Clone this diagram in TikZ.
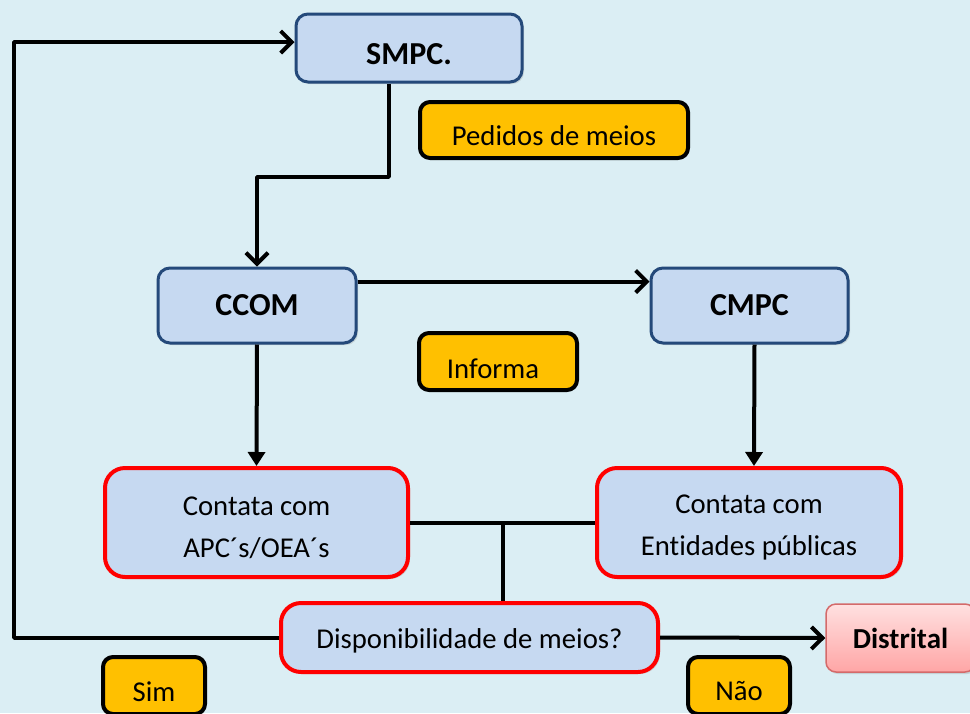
\documentclass[tikz,border=0pt]{standalone}
\usepackage{fontspec}
\setmainfont{Carlito}[Ligatures=NoCommon,Contextuals=NoAlternate]
\usetikzlibrary{arrows.meta,shadows}
\definecolor{bgblue}{HTML}{DBEEF4}
\definecolor{boxblue}{HTML}{C6D9F1}
\definecolor{edgeblue}{HTML}{24497A}
\definecolor{labelorange}{HTML}{FFC000}
\definecolor{distedge}{HTML}{D46A6A}
\newcommand{\shiftdown}[2]{\raisebox{-#1}[\height][\depth]{#2}}
\begin{document}
\begin{tikzpicture}[x=1pt,y=-1pt,line join=bevel,
  >={Straight Barb[length=11pt,width=22pt]},
  tri/.style={-{Triangle[length=14pt,width=17pt]}},
  link/.style={black,line width=4pt},
  shade box/.style={drop shadow={opacity=0.25,shadow xshift=2pt,shadow yshift=-2pt}},
  actor/.style={draw=edgeblue,line width=3pt,fill=boxblue,rounded corners=12pt,inner sep=0pt,shade box,font=\fontsize{32}{38}\selectfont\bfseries},
  task/.style={draw=red,line width=4pt,fill=boxblue,rounded corners=20pt,inner sep=0pt,align=center,shade box,font=\fontsize{28.7}{42}\selectfont},
  tag/.style={draw=black,line width=4pt,fill=labelorange,rounded corners=10pt,inner sep=0pt,font=\fontsize{28.7}{35}\selectfont},
]
\useasboundingbox [fill=bgblue] (0,0) rectangle (970,713);
%%
\node (node_smpc) at (409,48) [actor,minimum width=226pt,minimum height=68pt] {\shiftdown{6pt}{SMPC.}};
  \node (node_pedidos) at (554,130) [tag,minimum width=268pt,minimum height=56pt] {\shiftdown{6pt}{Pedidos de meios}};
  \node (node_ccom) at (257,305.5) [actor,minimum width=198pt,minimum height=75pt] {CCOM};
  \node (node_cmpc) at (749.5,305.5) [actor,minimum width=197pt,minimum height=75pt] {CMPC};
  \node (node_informa) at (498,361.5) [tag,minimum width=158pt,minimum height=57pt] {\shiftdown{7pt}{Informa}\hspace*{10pt}};
  \node (node_apc) at (256.5,522.5) [task,minimum width=303pt,minimum height=109pt] {\shiftdown{5pt}{Contata com}\\\shiftdown{5pt}{APC´s/OEA´s}};
  \node (node_ent) at (749,522.5) [task,minimum width=304pt,minimum height=109pt] {\shiftdown{5pt}{Contata com}\\\shiftdown{5pt}{Ent\kern0pt idades públicas}};
  \node (node_disp) at (469.5,637.5) [task,minimum width=377pt,minimum height=69pt] {\shiftdown{3pt}{Disponibilidade de meios?}};
  \node (node_dist) at (900.5,638) [draw=distedge,line width=1.5pt,top color=red!12,bottom color=red!35,rounded corners=10pt,inner sep=0pt,shade box,minimum width=149pt,minimum height=68pt,font=\fontsize{29}{35}\selectfont\bfseries] {Distrital};
  \node (node_sim) at (154,685.5) [tag,minimum width=102pt,minimum height=57pt] {\shiftdown{6pt}{Sim}};
  \node (node_nao) at (739,685.5) [tag,minimum width=102pt,minimum height=57pt] {\shiftdown{6pt}{Não}};
%
  \coordinate (c_bend) at (389,177);
  \coordinate (c_join) at (503,522.5);
  \coordinate (c_left) at (14,42);
  \draw [link,->] (node_smpc.south -| c_bend) -- (c_bend) -| (node_ccom.north);
  \draw [link,->] ([yshift=24pt]node_ccom.east) -- ([yshift=24pt]node_cmpc.west);
  \draw [link,tri] (node_ccom.south) -- (node_apc.north);
  \draw [link,tri] ([xshift=5pt]node_cmpc.south) -- ([xshift=5pt]node_ent.north);
  \draw [link] (node_apc.east) -- (node_ent.west);
  \draw [link] (c_join) -- (c_join |- node_disp.north);
  \draw [link,->] (node_disp.west) -| (c_left) -- (node_smpc.west |- c_left);
  \draw [link,->] (node_disp.east) -- (node_dist.west);
%
\end{tikzpicture}
\end{document}
